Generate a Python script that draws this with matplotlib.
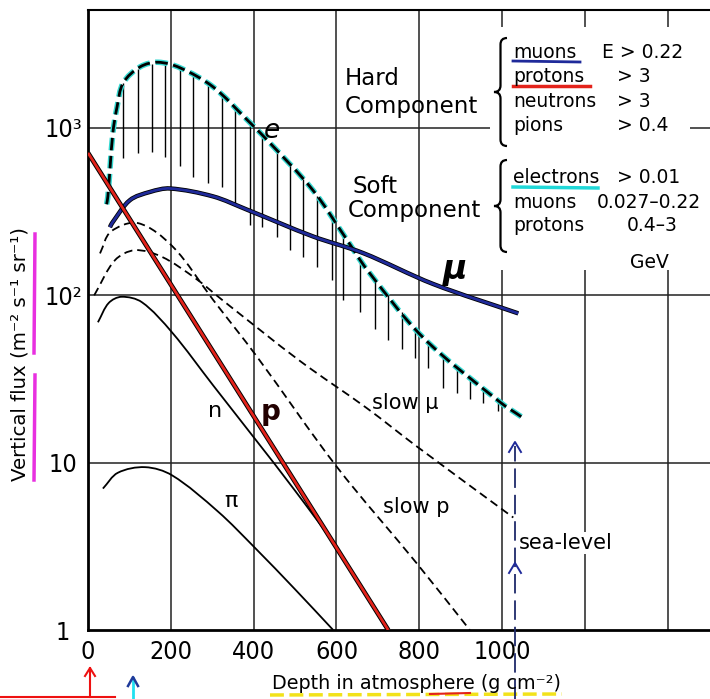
import numpy as np
import matplotlib.pyplot as plt
from matplotlib import font_manager
from matplotlib.path import Path
from matplotlib.patches import PathPatch, Rectangle
from matplotlib.lines import Line2D
from matplotlib.ticker import NullLocator

plt.rcParams['lines.scale_dashes'] = False
W, H = 710, 699

# values (depth in g cm^-2, flux in m^-2 s^-1 sr^-1)
e_depth = [45, 48, 60, 70, 85, 126, 169, 222, 302, 384, 432, 543, 625, 674, 809, 995, 1048]
e_flux = [350, 390, 930, 1330, 1860, 2320, 2470, 2290, 1760, 1120, 850, 425, 215, 142, 56, 23, 18.7]
mu_depth = [53, 58, 101, 150, 198, 302, 384, 543, 664, 833, 1039]
mu_flux = [255, 270, 370, 415, 435, 390, 325, 225, 179, 117, 78]
p_depth = [0, 725]
p_flux = [710, 1.0]
n_depth = [24, 50, 81, 130, 203, 302, 400, 500, 600, 722]
n_flux = [69, 90, 98, 91, 60, 29, 14.2, 6.8, 3.1, 1.0]
pi_depth = [36, 72, 138, 203, 314, 403, 500, 592]
pi_flux = [7.0, 8.7, 9.4, 8.4, 5.1, 3.1, 1.75, 1.0]
slowmu_depth = [15, 65, 113, 178, 260, 326, 512, 673, 794, 1027]
slowmu_flux = [100, 162, 186, 170, 126, 93, 40.5, 21.2, 12.5, 4.7]
slowp_depth = [29, 55, 121, 205, 302, 408, 600, 794, 922]
slowp_flux = [178, 240, 270, 195, 94, 43, 9.5, 2.5, 1.0]
# spread of the electron curve (vertical hatching)
hatch_depth = [85, 121, 154, 186, 222, 254, 290, 323, 355, 391, 420, 456, 488, 519, 553, 589,
               616, 657, 693, 725, 758, 790, 821, 857, 891, 923, 954, 990]
hatch_low = [660, 705, 720, 670, 590, 510, 467, 446, 355, 263, 257, 223, 187, 170, 148, 123,
             94, 79, 63, 54, 48, 42, 37, 28, 26, 24, 22.6, 20.4]

xticks = [0, 200, 400, 600, 800, 1000, 1200, 1400]
xticklabels = ['0', '200', '400', '600', '800', '1000', '', '']
yticks = [1, 10, 100, 1000]
yticklabels = ['1', '10', '10²', '10³']

hard = [('muons', 'E > 0.22'), ('protons', '> 3'), ('neutrons', '> 3'), ('pions', '> 0.4')]
soft = [('electrons', '> 0.01'), ('muons', '0.027–0.22'), ('protons', '0.4–3')]

names = {f.name for f in font_manager.fontManager.ttflist}
if 'Liberation Sans Narrow' in names:
    tickfont = dict(family='Liberation Sans Narrow', fontsize=20)
else:
    tickfont = dict(family='DejaVu Sans', fontstretch='condensed', fontsize=18)

fig = plt.figure(figsize=(7.1, 6.99), dpi=100)
ax = fig.add_axes([88/W, 1-630/H, 1-88/W, 620/H])
ax.set_yscale('log')
ax.set_xlim(0, 1502)
ax.set_ylim(1, 5070)
ax.yaxis.set_minor_locator(NullLocator())


def smooth(xs, ys, **kw):
    # smooth path through the read points (chord-length Catmull-Rom), built in screen-like units
    sx, sy = 622/1502., 167.33
    P = np.column_stack([np.array(xs)*sx, np.log10(ys)*sy])
    t = np.concatenate([[0], np.cumsum(np.hypot(*np.diff(P, axis=0).T))])
    n = len(P)
    m = np.zeros_like(P)
    for i in range(n):
        a, b = max(i-1, 0), min(i+1, n-1)
        m[i] = (P[b]-P[a])/(t[b]-t[a])
    verts = [P[0]]
    codes = [Path.MOVETO]
    for i in range(n-1):
        dt = t[i+1]-t[i]
        verts += [P[i]+m[i]*dt/3, P[i+1]-m[i+1]*dt/3, P[i+1]]
        codes += [Path.CURVE4]*3
    V = np.array(verts)
    V[:, 0] /= sx
    V[:, 1] = 10**(V[:, 1]/sy)
    ax.add_patch(PathPatch(Path(V, codes), fill=False, capstyle='butt', joinstyle='round', **kw))


ax.vlines(xticks[1:], 1, 5070, colors='#222222', lw=1.1, zorder=1)
ax.hlines(yticks[1:], 0, 1502, colors='#222222', lw=1.1, zorder=1)
ax.add_patch(Rectangle((490/W, 1-270/H), 200/W, 243/H, transform=fig.transFigure,
                       facecolor='white', edgecolor='none', zorder=1.5))

ntop = np.exp(np.interp(hatch_depth, e_depth, np.log(e_flux)))
ax.vlines(hatch_depth, hatch_low, ntop, colors='k', lw=1.0, zorder=2)

smooth(e_depth, e_flux, color='#35d8d0', lw=4, ls=(0, (9, 4)), zorder=3)
smooth(e_depth, e_flux, color='k', lw=2, ls=(0, (9, 4)), zorder=3.1)
smooth(mu_depth, mu_flux, color='k', lw=3.2, zorder=3)
smooth(mu_depth, mu_flux, color='#1f2a9a', lw=2, zorder=3.1)
smooth(n_depth, n_flux, color='k', lw=1.3, zorder=3)
smooth(p_depth, p_flux, color='k', lw=3.4, zorder=3.2)
smooth(p_depth, p_flux, color='#e3231b', lw=2, zorder=3.3)
smooth(pi_depth, pi_flux, color='k', lw=1.3, zorder=3)
smooth(slowmu_depth, slowmu_flux, color='k', lw=1.3, ls=(0, (6, 3.5)), zorder=3)
smooth(slowp_depth, slowp_flux, color='k', lw=1.3, ls=(0, (6, 3.5)), zorder=3)

for s in ['left', 'bottom']:
    ax.spines[s].set_linewidth(2)
ax.spines['top'].set_linewidth(1.5)
ax.spines['right'].set_visible(False)
ax.set_xticks(xticks)
ax.set_xticklabels(xticklabels, **tickfont)
ax.set_yticks(yticks)
ax.set_yticklabels(yticklabels, **tickfont)
for lab in ax.get_yticklabels():
    lab.set_horizontalalignment('center')
ax.tick_params(axis='x', length=0, pad=7)
ax.tick_params(axis='y', length=0, pad=18)

# curve labels
ax.text(445, 955, 'e', fontsize=19, style='italic', ha='center', va='center', zorder=4)
ax.text(886, 142, 'μ', fontsize=24, fontweight='bold', style='italic', ha='center', va='center', zorder=4)
ax.text(440, 20.1, 'p', fontsize=20, fontweight='bold', ha='center', va='center', color='#200', zorder=4)
ax.text(307, 20.4, 'n', fontsize=16, ha='center', va='center', zorder=4)
ax.text(345, 5.9, 'π', fontsize=16, ha='center', va='center', zorder=4)
ax.text(766, 22.8, 'slow μ', fontsize=15, ha='center', va='center', zorder=4)
ax.text(792, 5.43, 'slow p', fontsize=15, ha='center', va='center', zorder=4)
ax.text(1041, 3.31, 'sea-level', fontsize=15, ha='left', va='center', zorder=4,
        bbox=dict(facecolor='white', edgecolor='none', pad=1))


def T(px, py, s, **kw):
    fig.text(px/W, 1-py/H, s, **kw)


def brace(xl, xr, ytop, ybot):
    xm = (xl+xr)/2
    ym = (ytop+ybot)/2
    r = (xr-xl)/2
    pts = [(xr, ytop), (xm, ytop), (xm, ytop+r), (xm, ym-r), (xm, ym), (xl, ym),
           (xm, ym), (xm, ym+r), (xm, ybot-r), (xm, ybot), (xr, ybot)]
    codes = [Path.MOVETO, Path.CURVE3, Path.CURVE3, Path.LINETO, Path.CURVE3, Path.CURVE3,
             Path.CURVE3, Path.CURVE3, Path.LINETO, Path.CURVE3, Path.CURVE3]
    v = [(x/W, 1-y/H) for x, y in pts]
    fig.add_artist(PathPatch(Path(v, codes), transform=fig.transFigure, fill=False, lw=1.6, color='k'))


T(345, 85, 'Hard', fontsize=16.5)
T(345, 113, 'Component', fontsize=16.5)
T(352, 193, 'Soft', fontsize=16.5)
T(348, 217, 'Component', fontsize=16.5)
brace(494, 507, 38, 146)
brace(494, 507, 160, 252)

hard_y = [58, 82, 107, 131]
hard_x = [602, 617, 617, 617]
for (a, b), y, x in zip(hard, hard_y, hard_x):
    T(513, y, a, fontsize=13.5)
    T(x, y, b, fontsize=13.5)
soft_y = [183, 208, 231]
soft_x = [617, 597, 627]
for (a, b), y, x in zip(soft, soft_y, soft_x):
    T(513, y, a, fontsize=13.5)
    T(x, y, b, fontsize=13.5)
T(630, 268, 'GeV', fontsize=13.5)


def hline(x0, x1, y0, y1, **kw):
    fig.add_artist(Line2D([x0/W, x1/W], [1-y0/H, 1-y1/H], transform=fig.transFigure, **kw))


hline(513, 580, 61, 62, color='#1f2a9a', lw=2)
hline(513, 590, 86, 86, color='#e3231b', lw=2.5)
hline(513, 598, 187, 188, color='#20d8d8', lw=2.5)

T(417, 689, 'Depth in atmosphere (g cm⁻²)', fontsize=13.8, ha='center', va='baseline')
T(20, 354, 'Vertical flux (m⁻² s⁻¹ sr⁻¹)', fontsize=14.2, ha='center', va='center', rotation=90)
hline(35, 34, 234, 353, color='#e830e0', lw=2.5)
hline(35, 34, 375, 480, color='#e830e0', lw=2.5)
hline(270, 562, 695, 694, color='#f2e21a', lw=2.5, ls=(0, (10, 4)))
hline(430, 470, 694, 693, color='#e3231b', lw=1.5)

# sea-level arrow
hline(515, 515, 699, 446, color='#1f2a6a', lw=1.3, ls=(0, (14, 5)))
fig.add_artist(Line2D([509/W, 515/W, 521/W], [1-452/H, 1-442/H, 1-452/H],
                      transform=fig.transFigure, color='#1f2a9a', lw=1.4))
fig.add_artist(Line2D([509/W, 515/W, 521/W], [1-573/H, 1-563/H, 1-573/H],
                      transform=fig.transFigure, color='#1f2a9a', lw=1.4))

# hand-drawn marks at bottom left
hline(0, 115, 697, 697, color='#ee1111', lw=1.5)
hline(90, 90, 697, 668, color='#ee1111', lw=1.5)
fig.add_artist(Line2D([85/W, 90/W, 95/W], [1-676/H, 1-668/H, 1-676/H],
                      transform=fig.transFigure, color='#ee1111', lw=1.5))
hline(133, 133, 699, 678, color='#20e0f0', lw=2)
fig.add_artist(Line2D([128/W, 133/W, 138/W], [1-686/H, 1-677/H, 1-686/H],
                      transform=fig.transFigure, color='#1f3a9a', lw=1.8))

fig.savefig('out.png', dpi=100)
